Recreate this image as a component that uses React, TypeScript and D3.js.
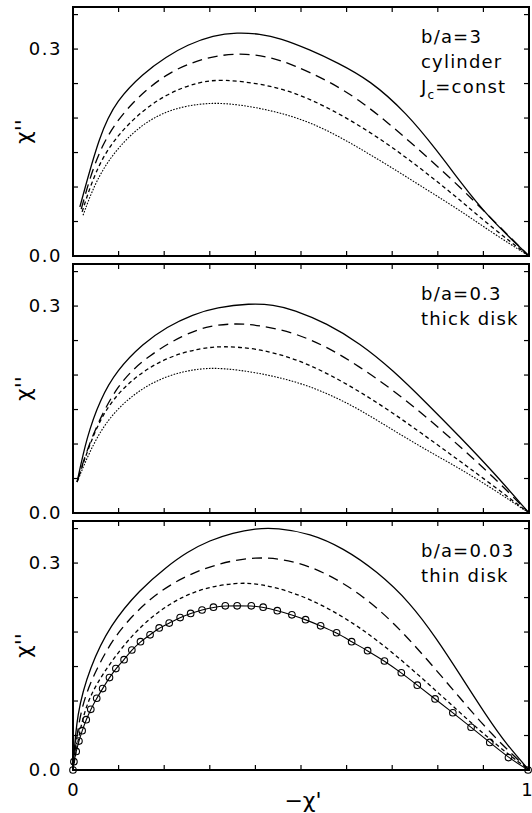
import React from 'react';
import * as d3 from 'd3';

// curves, [ -chi', chi'' ]
const cylSolid = [[0.015, 0.071], [0.059, 0.178], [0.096, 0.226], [0.154, 0.265], [0.205, 0.289], [0.25, 0.306], [0.308, 0.32], [0.36, 0.324], [0.41, 0.322], [0.454, 0.316], [0.52, 0.299], [0.578, 0.281], [0.651, 0.255], [0.732, 0.207], [0.798, 0.153], [0.849, 0.108], [0.908, 0.058], [1, 0]];
const cylLong = [[0.018, 0.068], [0.059, 0.164], [0.132, 0.226], [0.206, 0.265], [0.263, 0.281], [0.315, 0.291], [0.38, 0.294], [0.44, 0.287], [0.483, 0.277], [0.557, 0.255], [0.629, 0.226], [0.702, 0.187], [0.776, 0.144], [0.849, 0.1], [0.921, 0.052], [1, 0]];
const cylShort = [[0.02, 0.064], [0.059, 0.144], [0.132, 0.201], [0.206, 0.236], [0.278, 0.253], [0.33, 0.256], [0.41, 0.25], [0.483, 0.238], [0.557, 0.216], [0.629, 0.189], [0.702, 0.157], [0.776, 0.12], [0.849, 0.081], [0.921, 0.04], [1, 0]];
const cylDot = [[0.022, 0.059], [0.059, 0.125], [0.132, 0.183], [0.206, 0.212], [0.278, 0.221], [0.33, 0.222], [0.4, 0.216], [0.483, 0.203], [0.557, 0.183], [0.629, 0.156], [0.702, 0.127], [0.776, 0.096], [0.849, 0.066], [0.921, 0.033], [1, 0]];

const thickSolid = [[0.009, 0.045], [0.03, 0.11], [0.059, 0.164], [0.096, 0.207], [0.154, 0.246], [0.206, 0.27], [0.263, 0.288], [0.315, 0.298], [0.388, 0.304], [0.44, 0.302], [0.483, 0.295], [0.557, 0.275], [0.629, 0.246], [0.702, 0.207], [0.776, 0.159], [0.849, 0.11], [0.921, 0.06], [1, 0]];
const thickLong = [[0.009, 0.045], [0.037, 0.106], [0.096, 0.188], [0.169, 0.23], [0.241, 0.258], [0.3, 0.272], [0.36, 0.275], [0.41, 0.272], [0.483, 0.262], [0.557, 0.241], [0.629, 0.212], [0.702, 0.178], [0.776, 0.139], [0.849, 0.096], [0.921, 0.053], [1, 0]];
const thickShort = [[0.009, 0.045], [0.059, 0.145], [0.132, 0.197], [0.206, 0.226], [0.278, 0.239], [0.33, 0.242], [0.4, 0.239], [0.483, 0.225], [0.557, 0.203], [0.629, 0.176], [0.702, 0.145], [0.776, 0.11], [0.849, 0.075], [0.921, 0.04], [1, 0]];
const thickDot = [[0.009, 0.045], [0.059, 0.125], [0.132, 0.174], [0.206, 0.2], [0.278, 0.21], [0.33, 0.21], [0.4, 0.204], [0.483, 0.192], [0.557, 0.174], [0.629, 0.15], [0.702, 0.12], [0.776, 0.091], [0.849, 0.064], [0.921, 0.035], [1, 0]];

const thinSolid = [[0, 0], [0.008, 0.083], [0.037, 0.149], [0.081, 0.21], [0.147, 0.262], [0.206, 0.295], [0.25, 0.316], [0.3, 0.333], [0.351, 0.344], [0.4, 0.35], [0.447, 0.351], [0.52, 0.343], [0.592, 0.322], [0.667, 0.288], [0.739, 0.243], [0.798, 0.19], [0.849, 0.138], [0.908, 0.077], [0.952, 0.036], [1, 0]];
const thinLong = [[0, 0], [0.015, 0.091], [0.053, 0.149], [0.096, 0.2], [0.169, 0.25], [0.241, 0.28], [0.315, 0.299], [0.4, 0.31], [0.483, 0.304], [0.557, 0.285], [0.629, 0.256], [0.702, 0.215], [0.776, 0.161], [0.849, 0.104], [0.921, 0.049], [1, 0]];
const thinShort = [[0, 0], [0.022, 0.087], [0.059, 0.135], [0.132, 0.2], [0.206, 0.24], [0.278, 0.263], [0.36, 0.272], [0.41, 0.27], [0.483, 0.258], [0.557, 0.236], [0.629, 0.207], [0.702, 0.17], [0.776, 0.127], [0.849, 0.083], [0.921, 0.04], [1, 0]];
const thinCircles = [[0, 0], [0.002, 0.012], [0.007, 0.027], [0.013, 0.042], [0.02, 0.057], [0.029, 0.073], [0.039, 0.088], [0.052, 0.104], [0.065, 0.118], [0.08, 0.134], [0.094, 0.147], [0.112, 0.16], [0.129, 0.174], [0.148, 0.186], [0.169, 0.196], [0.189, 0.206], [0.211, 0.213], [0.235, 0.221], [0.258, 0.227], [0.283, 0.232], [0.308, 0.236], [0.334, 0.238], [0.36, 0.238], [0.391, 0.238], [0.417, 0.236], [0.448, 0.231], [0.48, 0.225], [0.51, 0.218], [0.543, 0.209], [0.578, 0.199], [0.611, 0.186], [0.646, 0.173], [0.683, 0.158], [0.72, 0.141], [0.755, 0.123], [0.794, 0.103], [0.833, 0.083], [0.873, 0.062], [0.914, 0.04], [0.955, 0.018], [0.998, 0]];

const xTicks = [0.1, 0.2, 0.3, 0.4, 0.5, 0.6, 0.7, 0.8, 0.9];
const yTicks = [0.05, 0.1, 0.15, 0.2, 0.25, 0.3, 0.35];
const yLabels = [0, 0.3];
const xLabels = [0, 1];

const dashes = ['none', '10,6', '4,3', '1.6,1.4'];

const panels = [
  { lines: [cylSolid, cylLong, cylShort, cylDot], text: ['b/a=3', 'cylinder', 'Jc=const'], circles: null as number[][] | null },
  { lines: [thickSolid, thickLong, thickShort, thickDot], text: ['b/a=0.3', 'thick disk'], circles: null as number[][] | null },
  { lines: [thinSolid, thinLong, thinShort, thinCircles], text: ['b/a=0.03', 'thin disk'], circles: thinCircles },
];

const W = 532, H = 813;
const left = 73, right = 529;
const panelH = 249;
const gap = 8;
const top0 = 7;
const font = 'DejaVu Sans, sans-serif';

const x = d3.scaleLinear().domain([0, 1]).range([left, right]);

function Panel({ p, i }: { p: typeof panels[0]; i: number }) {
  const y0 = top0 + i * (panelH + gap) + panelH;
  const y = d3.scaleLinear().domain([0, 0.361]).range([y0, y0 - panelH]);
  const line = d3.line<number[]>().x(d => x(d[0])).y(d => y(d[1])).curve(d3.curveBasis);
  const tk = 5;
  return (
    <g>
      {p.lines.map((l, k) => (
        <path key={k} d={line(l) || ''} fill="none" stroke="#000" strokeWidth={k === 3 ? 1.1 : 1.3}
          strokeDasharray={p.circles && k === 3 ? 'none' : dashes[k]} />
      ))}
      {p.circles && p.circles.map((c, k) => (
        <circle key={k} cx={x(c[0])} cy={y(c[1])} r={3.3} fill="none" stroke="#000" strokeWidth={1.1} />
      ))}
      <rect x={left} y={y0 - panelH} width={right - left} height={panelH} fill="none" stroke="#000" strokeWidth={2} />
      {xTicks.map(t => (
        <g key={t}>
          <line x1={x(t)} x2={x(t)} y1={y0} y2={y0 - tk} stroke="#000" strokeWidth={1.2} />
          <line x1={x(t)} x2={x(t)} y1={y0 - panelH} y2={y0 - panelH + tk} stroke="#000" strokeWidth={1.2} />
        </g>
      ))}
      {yTicks.map(t => (
        <g key={t}>
          <line x1={left} x2={left + tk} y1={y(t)} y2={y(t)} stroke="#000" strokeWidth={1.2} />
          <line x1={right} x2={right - tk} y1={y(t)} y2={y(t)} stroke="#000" strokeWidth={1.2} />
        </g>
      ))}
      {yLabels.map(t => (
        <text key={t} x={62} y={y(t) + 6} textAnchor="end" fontSize={18} letterSpacing={1.5} fontFamily={font}>
          {t.toFixed(1)}
        </text>
      ))}
      <text transform={`translate(31,${y0 - panelH / 2}) rotate(-90)`} textAnchor="middle" fontSize={22} fontFamily={font}>
        {"χ''"}
      </text>
      {p.text.map((s, k) => (
        <text key={k} x={421} y={y0 - panelH + 36 + k * 25} fontSize={18} letterSpacing={1.2} fontFamily={font}>
          {s === 'Jc=const' ? (<><tspan>J</tspan><tspan fontSize={12} dy={6}>c</tspan><tspan dy={-6}>=const</tspan></>) : s}
        </text>
      ))}
    </g>
  );
}

export default function App() {
  const yb = top0 + 3 * panelH + 2 * gap;
  return (
    <svg width={W} height={H} style={{ position: 'absolute', left: 0, top: 0, background: '#fff' }}>
      {panels.map((p, i) => <Panel key={i} p={p} i={i} />)}
      {xLabels.map(t => (
        <text key={t} x={t === 1 ? x(t) - 2 : x(t)} y={yb + 26} textAnchor="middle" fontSize={18} fontFamily={font}>{t}</text>
      ))}
      <text x={(left + right) / 2 + 2} y={yb + 38} textAnchor="middle" fontSize={22} fontFamily={font}>{"−χ'"}</text>
    </svg>
  );
}
